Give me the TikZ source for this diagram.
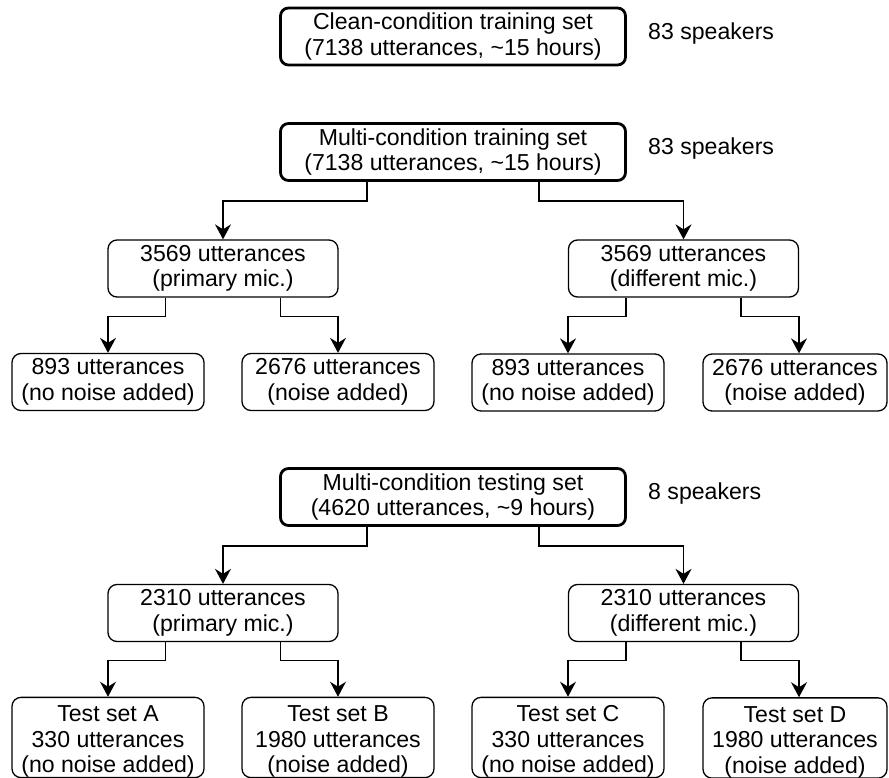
\documentclass[tikz,border=0pt]{standalone}
\usepackage{fontspec}
\setmainfont{Liberation Sans}
\usetikzlibrary{arrows.meta}

% extra room above the first line, pushes three-line labels downwards
\newcommand{\toppad}{\rule{0pt}{24.5pt}}

\begin{document}
\begin{tikzpicture}[x=1pt, y=-1pt,
  every node/.style={font=\fontsize{23.1}{25.5}\selectfont, inner sep=0pt},
  bigbox/.style={draw, line width=2.8pt, rounded corners=8pt,
    minimum width=345pt, minimum height=57pt, align=center},
  setbox/.style={draw, line width=1.3pt, rounded corners=9pt,
    minimum height=57pt, align=center},
  wide/.style={minimum width=230pt},
  narrow/.style={minimum width=192pt},
  tall/.style={minimum height=78pt},
  link/.style={line width=1.3pt, -{Stealth[length=15pt, width=16pt, inset=5pt]}},
  note/.style={anchor=base west}]

\fill[white] (0,0) rectangle (889,778);
\useasboundingbox (0,0) rectangle (889,778);

% ---- clean-condition training data
\node[bigbox] (clean) at (453,36.5)
  {Clean-condition training set\\(7138 utterances, \textasciitilde15 hours)};
\node[note] (spkclean) at (648,40) {83 speakers};

% ---- multi-condition training data
\node[bigbox] (mtrain) at (453,152)
  {Multi-condition training set\\(7138 utterances, \textasciitilde15 hours)};
\node[note] (spkmtrain) at (648,155) {83 speakers};

\node[setbox,wide] (trp) at (223,268.5) {3569 utterances\\(primary mic.)};
\node[setbox,wide] (trd) at (683.5,268.5) {3569 utterances\\(different mic.)};

\node[setbox,narrow] (trpa) at (108,382) {893 utterances\\(no noise added)};
\node[setbox,narrow] (trpb) at (338,382) {2676 utterances\\(noise added)};
\node[setbox,narrow] (trda) at (568,382.5) {893 utterances\\(no noise added)};
\node[setbox,minimum width=184pt] (trdb) at (795,382.5) {2676 utterances\\(noise added)};

\draw[link] ([xshift=-86pt]mtrain.south) -- ++(0,19) -| (trp.north);
\draw[link] ([xshift=86pt]mtrain.south) -- ++(0,19) -| (trd.north);
\draw[link] ([xshift=-57.5pt]trp.south) -- ++(0,19) -| (trpa.north);
\draw[link] ([xshift=57.5pt]trp.south) -- ++(0,19) -| (trpb.north);
\draw[link] ([xshift=-57.5pt]trd.south) -- ++(0,19) -| (trda.north);
\draw[link] ([xshift=57.5pt]trd.south) -- ++(0,19) -| ([xshift=4pt]trdb.north);

% ---- multi-condition testing data
\node[bigbox] (mtest) at (453,497)
  {Multi-condition testing set\\(4620 utterances, \textasciitilde9 hours)};
\node[note] (spkmtest) at (648,499) {8 speakers};

\node[setbox,wide] (tep) at (223,613) {2310 utterances\\(primary mic.)};
\node[setbox,wide] (ted) at (683.5,613) {2310 utterances\\(different mic.)};

\node[setbox,narrow,tall] (seta) at (108,737.5)
  {\toppad Test set A\\330 utterances\\(no noise added)};
\node[setbox,narrow,tall] (setb) at (338,737.5)
  {\toppad Test set B\\1980 utterances\\(noise added)};
\node[setbox,narrow,tall] (setc) at (568,737.5)
  {\toppad Test set C\\330 utterances\\(no noise added)};
\node[setbox,tall,minimum width=184pt] (setd) at (795,738)
  {\toppad Test set D\\1980 utterances\\(noise added)};

\draw[link] ([xshift=-86pt]mtest.south) -- ++(0,19) -| (tep.north);
\draw[link] ([xshift=86pt]mtest.south) -- ++(0,19) -| (ted.north);
\draw[link] ([xshift=-57.5pt]tep.south) -- ++(0,18) -| (seta.north);
\draw[link] ([xshift=57.5pt]tep.south) -- ++(0,18) -| (setb.north);
\draw[link] ([xshift=-57.5pt]ted.south) -- ++(0,18) -| (setc.north);
\draw[link] ([xshift=57.5pt]ted.south) -- ++(0,18) -| ([xshift=4pt]setd.north);

\end{tikzpicture}
\end{document}
